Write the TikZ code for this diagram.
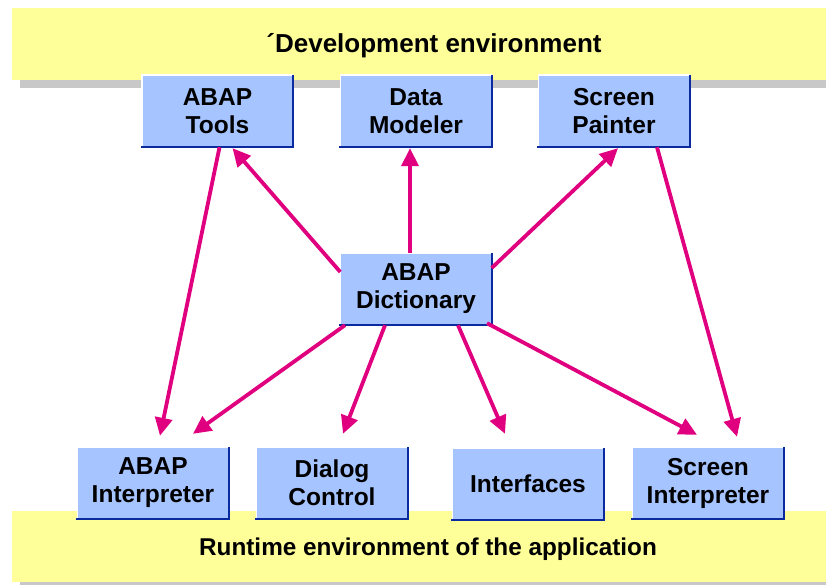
\documentclass[tikz,border=0pt]{standalone}
\usepackage{fontspec}
\setmainfont{Liberation Sans}
\usetikzlibrary{arrows.meta}
\definecolor{bandyellow}{HTML}{FFFF99}
\definecolor{shadowgray}{HTML}{C8C8C8}
\definecolor{boxblue}{HTML}{A6C4FF}
\definecolor{edgeblue}{HTML}{0A2A9E}
\definecolor{arrowpink}{HTML}{E0007F}
\tikzset{
  box/.style={fill=boxblue, minimum width=151pt, minimum height=72pt, inner sep=0pt,
    align=center, font=\fontsize{24.5}{28}\selectfont\bfseries},
  arr/.style={draw=arrowpink, line width=3.8pt, -{Triangle[length=18pt,width=17pt]}},
}
\begin{document}
\begin{tikzpicture}[x=1pt,y=-1pt]
\useasboundingbox (0,0) rectangle (826,585);
% bands
\fill[shadowgray] (20,80) rectangle (826,88);
\fill[bandyellow] (12,8) rectangle (826,80);
\fill[shadowgray] (20,582) rectangle (826,585);
\fill[bandyellow] (12,511) rectangle (826,582);
\node[font=\fontsize{26}{30}\selectfont\bfseries] (devtitle) at (434,46) {\textasciiacute Development environment};
\node[font=\fontsize{24.3}{28}\selectfont\bfseries] (runtitle) at (428,549) {Runtime environment of the application};
% boxes
\node[box] (tools) at (217.5,111) {ABAP\\Tools};
\node[box] (modeler) at (416,111) {Data\\Modeler};
\node[box] (painter) at (614,111) {Screen\\Painter};
\node[box] (dict) at (416,289) {ABAP\\Dictionary};
\node[box] (interp) at (153,483) {ABAP\\Interpreter};
\node[box] (dialog) at (332,483) {Dialog\\Control};
\node[box] (interfaces) at (528,484) {Interfaces};
\node[box] (scrinterp) at (708,483) {Screen\\Interpreter};
\foreach \n in {tools,modeler,painter,dict,interp,dialog,interfaces,scrinterp}{
  \draw[white, line width=1.6pt] (\n.south west) -- (\n.north west) -- (\n.north east);
  \draw[edgeblue, line width=2pt] (\n.north east) -- (\n.south east) -- ([xshift=-1pt]\n.south west);
}
% arrows
\draw[arr] ([xshift=2pt]tools.south) -- ([xshift=7pt,yshift=11pt]interp.north);
\draw[arr] ([yshift=17pt]dict.west) -- ([xshift=15pt,yshift=-1pt]tools.south);
\draw[arr] ([xshift=-6pt]dict.north) -- ([xshift=-6pt,yshift=-1pt]modeler.south);
\draw[arr] ([yshift=21pt]dict.east) -- ([xshift=4pt,yshift=-1pt]painter.south);
\draw[arr] ([xshift=43pt]painter.south) -- ([xshift=29pt,yshift=10pt]scrinterp.north);
\draw[arr] ([xshift=-71pt]dict.south) -- ([xshift=40pt,yshift=13pt]interp.north);
\draw[arr] ([xshift=-31pt]dict.south) -- ([xshift=11pt,yshift=13pt]dialog.north);
\draw[arr] ([xshift=42pt]dict.south) -- ([xshift=-23pt,yshift=14pt]interfaces.north);
\draw[arr] ([xshift=71pt,yshift=2pt]dict.south) -- ([xshift=-11pt,yshift=12pt]scrinterp.north);
\end{tikzpicture}
\end{document}
